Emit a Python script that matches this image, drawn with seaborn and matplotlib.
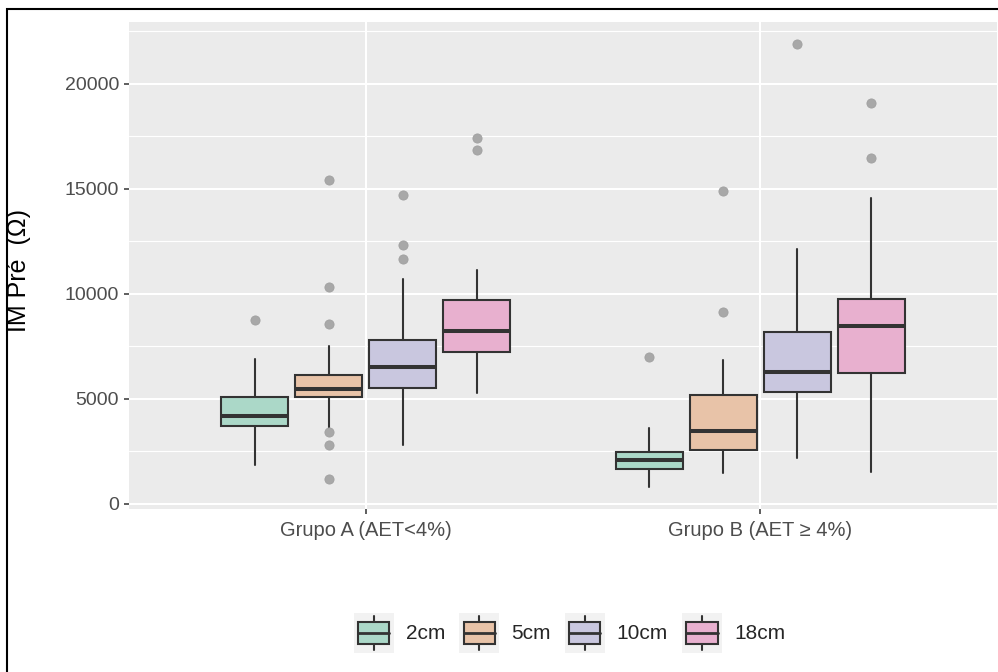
import matplotlib
matplotlib.use("Agg")
import matplotlib.pyplot as plt
import seaborn as sns
from matplotlib.patches import Rectangle, Patch
from matplotlib.lines import Line2D
from matplotlib.legend_handler import HandlerBase
from matplotlib.ticker import MultipleLocator, FuncFormatter

# ---- data: box statistics per group (rows) and electrode distance (columns)
groups = ["Grupo A (AET<4%)", "Grupo B (AET \u2265 4%)"]
distances = ["2cm", "5cm", "10cm", "18cm"]

q1_vals = [[3683, 5095, 5508, 7222],
           [1651, 2571, 5317, 6206]]
median_vals = [[4190, 5460, 6508, 8206],
               [2095, 3476, 6286, 8476]]
q3_vals = [[5062, 6127, 7778, 9683],
           [2460, 5159, 8190, 9746]]
whisker_low = [[1841, 3524, 2794, 5286],
               [794, 1460, 2159, 1524]]
whisker_high = [[6905, 7492, 10714, 11111],
                [3603, 6825, 12127, 14571]]
outliers = [[[8746], [15413, 10302, 8540, 3413, 2778, 1190], [14698, 12317, 11635], [17414, 16825]],
            [[7000], [14873, 9143], [21889], [19095, 16444]]]

fill_colors = ["#ABD8C8", "#E8C3A8", "#C9C7DF", "#E8B0CF"]
line_color = "#333333"
ylabel = "IM Pr\u00e9  (\u03a9)"

# ---- theme
sns.set_theme(style="darkgrid")
plt.rcParams["font.family"] = ["Liberation Sans", "DejaVu Sans"]
plt.rcParams["axes.facecolor"] = "#EBEBEB"

W, H = 998, 672
fig = plt.figure(figsize=(W / 100, H / 100), dpi=100)
fig.patch.set_facecolor("white")
ax = fig.add_axes([129 / W, 1 - 509 / H, (997 - 129) / W, (509 - 22) / H])
ax.set_facecolor("#EBEBEB")

# dodge layout like ggplot: total width 0.75, padding 0.1
n = len(distances)
slot = 0.75 / n
box_w = slot * 0.9
offsets = [(i - (n - 1) / 2) * slot for i in range(n)]

for si, dist in enumerate(distances):
    stats, pos = [], []
    for gi in range(len(groups)):
        stats.append(dict(med=median_vals[gi][si], q1=q1_vals[gi][si], q3=q3_vals[gi][si],
                          whislo=whisker_low[gi][si], whishi=whisker_high[gi][si],
                          fliers=outliers[gi][si], label=dist))
        pos.append(gi + offsets[si])
    ax.bxp(stats, positions=pos, widths=box_w, patch_artist=True, showcaps=False,
           boxprops=dict(facecolor=fill_colors[si], edgecolor=line_color, linewidth=1.5),
           medianprops=dict(color=line_color, linewidth=2.9, solid_capstyle="butt"),
           whiskerprops=dict(color=line_color, linewidth=1.5),
           flierprops=dict(marker="o", markerfacecolor="#A8A8A8", markeredgecolor="#A0A0A0",
                           markersize=6.6, markeredgewidth=0.6),
           manage_ticks=False, zorder=3)

# axis limits with 5% expansion of the data range
all_vals = [v for g in whisker_low for v in g] + [v for g in whisker_high for v in g] + \
           [v for g in outliers for s in g for v in s]
lo, hi = min(all_vals), max(all_vals)
pad = 0.05 * (hi - lo)
ax.set_ylim(lo - pad, hi + pad)
ax.set_xlim(-0.6, len(groups) - 1 + 0.6)

ax.set_xticks(range(len(groups)))
ax.set_xticklabels(groups)
ax.yaxis.set_major_locator(MultipleLocator(5000))
ax.yaxis.set_minor_locator(MultipleLocator(2500))
ax.yaxis.set_major_formatter(FuncFormatter(lambda v, p: f"{int(v)}"))

ax.grid(which="major", color="white", linewidth=1.5)
ax.grid(which="minor", axis="y", color="white", linewidth=0.8)
ax.set_axisbelow(True)
for sp in ax.spines.values():
    sp.set_visible(False)

ax.tick_params(axis="both", which="major", length=3.6, width=1.1, color=line_color,
               labelcolor="#4D4D4D")
ax.tick_params(axis="y", pad=3.6, left=True, labelsize=14)
ax.tick_params(axis="x", pad=5, bottom=True, labelsize=14.5)
ax.tick_params(which="minor", length=0)

ax.set_xlabel("")
ax.set_ylabel(ylabel, fontsize=18, color="black")
ax.yaxis.set_label_coords((31 - 129) / (997 - 129), 0.49)


# legend keys drawn as miniature boxplots on a light square tile
class BoxKeyHandler(HandlerBase):
    def create_artists(self, legend, orig_handle, xdescent, ydescent, width, height, fontsize, trans):
        x0, y0 = -xdescent, -ydescent
        bg = Rectangle((x0, y0), width, height, facecolor="#F2F2F2", edgecolor="none", transform=trans)
        bw, bh = width * 0.78, height * 0.53
        cx, cy = x0 + width / 2, y0 + height / 2
        whisk = Line2D([cx, cx], [y0 + height * 0.08, y0 + height * 0.92], color=line_color,
                       linewidth=1.5, transform=trans)
        box = Rectangle((cx - bw / 2, cy - bh / 2), bw, bh, facecolor=orig_handle.get_facecolor(),
                        edgecolor=line_color, linewidth=1.5, transform=trans)
        med = Line2D([cx - bw / 2, cx + bw / 2], [cy, cy], color=line_color, linewidth=2.0,
                     transform=trans)
        return [bg, whisk, box, med]


handles = [Patch(facecolor=c, label=d) for c, d in zip(fill_colors, distances)]
fig.legend(handles=handles, labels=distances, loc="center", bbox_to_anchor=(569.5 / W, 1 - 633 / H),
           ncol=4, frameon=False, fontsize=15, handlelength=1.92, handleheight=2.58,
           handletextpad=0.58, columnspacing=0.67, borderpad=0, borderaxespad=0,
           handler_map={Patch: BoxKeyHandler()})

# outer frame around the figure
fig.add_artist(Rectangle((7 / W, -0.5), 2.0, (1 - 9.5 / H) + 0.5, transform=fig.transFigure,
                         fill=False, edgecolor="black", linewidth=1.5))

fig.savefig("out.png", dpi=100)
